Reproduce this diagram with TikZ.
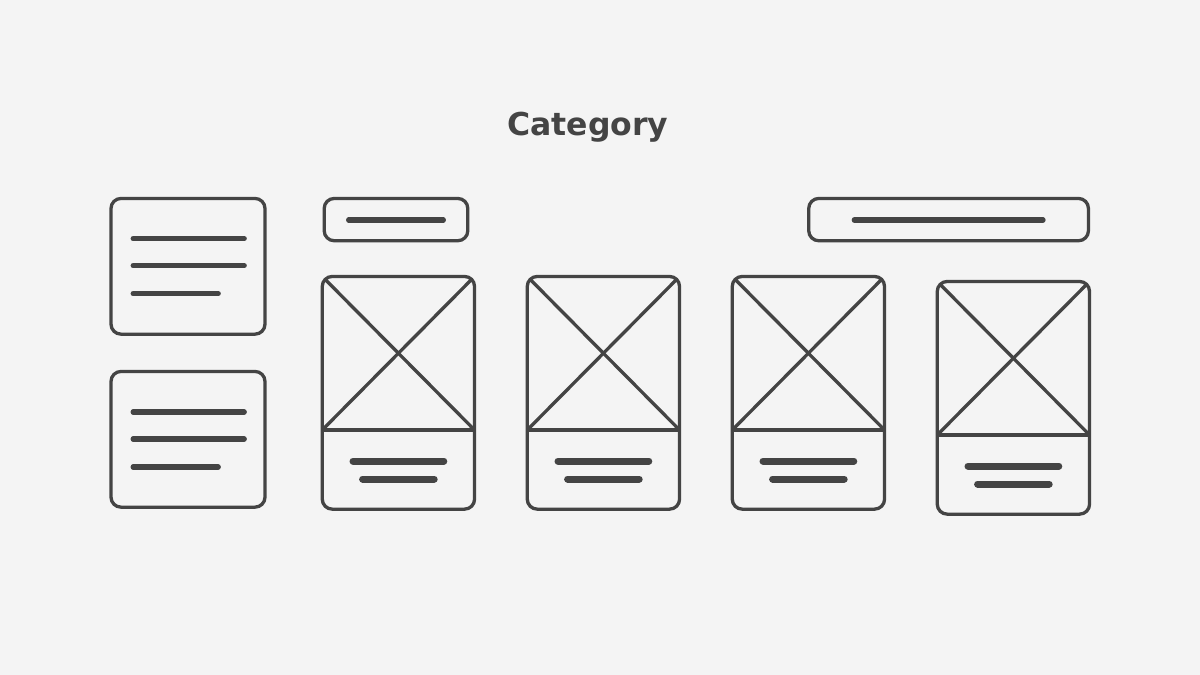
\documentclass[tikz,border=0pt]{standalone}
\usepackage{fontspec}
\setmainfont{DejaVu Sans}
\definecolor{bg}{HTML}{F4F4F4}
\definecolor{ink}{HTML}{444444}
\begin{document}
\begin{tikzpicture}[x=1pt,y=-1pt,
  frame/.style={draw=ink,line width=3.3pt,rounded corners=10pt,inner sep=0pt,outer sep=0pt,rectangle},
  txt/.style={draw=ink,line width=5.3pt,line cap=round},
  ctxt/.style={draw=ink,line width=7pt,line cap=round},
  xline/.style={draw=ink,line width=3.3pt}]
\fill[bg] (0,0) rectangle (1200,675);
\useasboundingbox (0,0) rectangle (1200,675);
\node[anchor=base,text=ink,font=\fontsize{31.5}{36}\selectfont\bfseries] (title) at (588,135) {Category};
% left text boxes
\node[frame,minimum width=154pt,minimum height=135.7pt] (l1) at (188,266.3) {};
\node[frame,minimum width=154pt,minimum height=135.7pt] (l2) at (188,439.3) {};
\foreach \y/\e in {238.7/244.2,265.7/244.2,293.7/218.2}{\draw[txt] (133.2,\y) -- (\e,\y);}
\foreach \y/\e in {412/244.2,439/244.2,467/218.2}{\draw[txt] (133.2,\y) -- (\e,\y);}
% top bars
\node[frame,minimum width=143.6pt,minimum height=42.3pt] (s1) at (396,219.6) {};
\draw[txt] (348.7,220) -- (443.3,220);
\node[frame,minimum width=279.7pt,minimum height=42.3pt] (s2) at (948.6,219.6) {};
\draw[txt] (854.3,220) -- (1043,220);
% cards
\foreach \i/\cx/\dy in {1/398.4/0,2/603.4/0,3/808.4/0,4/1013.4/5}{
  \node[frame,minimum width=152.3pt,minimum height=232.7pt] (c\i) at (\cx,392.8+\dy) {};
  \coordinate (d\i w) at (\cx-76.15,430+\dy);
  \coordinate (d\i e) at (\cx+76.15,430+\dy);
  \draw[xline] (d\i w) -- (d\i e);
  \begin{scope}
    \clip[rounded corners=10pt] (c\i.north west) rectangle (c\i.south east);
    \draw[xline] (c\i.north west) -- (d\i e);
    \draw[xline] (c\i.north east) -- (d\i w);
  \end{scope}
  \draw[ctxt] (\cx-45.4,461+\dy) -- (\cx+45.4,461+\dy);
  \draw[ctxt] (\cx-35.8,479+\dy) -- (\cx+35.8,479+\dy);
}
\end{tikzpicture}
\end{document}
